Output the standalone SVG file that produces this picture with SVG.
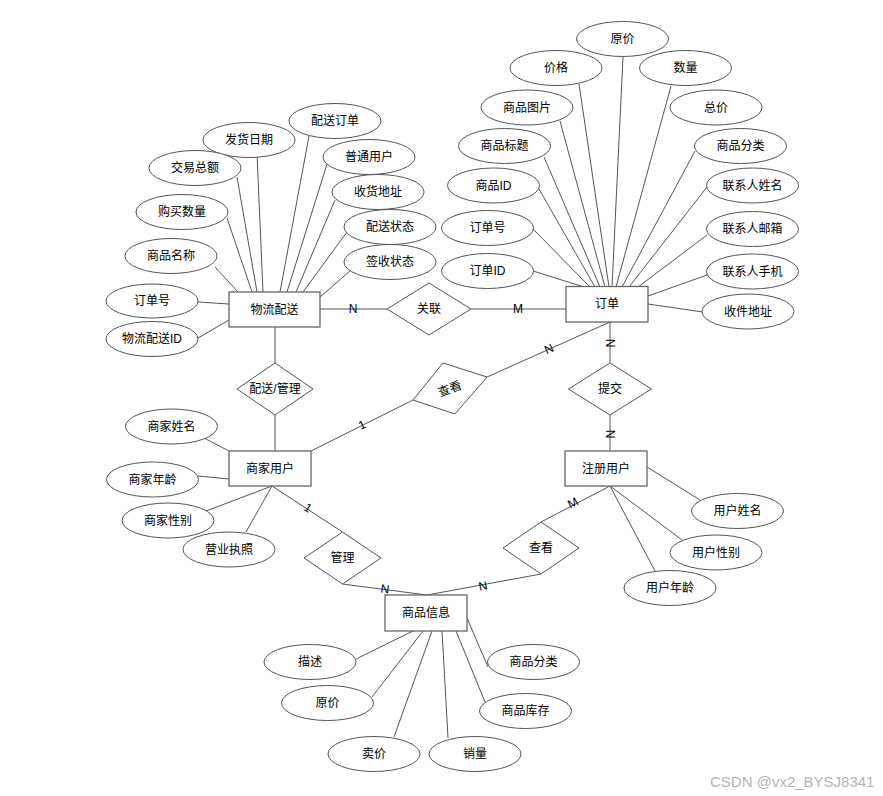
<svg xmlns="http://www.w3.org/2000/svg" width="883" height="796" viewBox="0 0 883 796">
<style>
.e{fill:#fff;stroke:#555;stroke-width:1}
.r{fill:#fff;stroke:#666;stroke-width:1.3}
.d{fill:#fff;stroke:#555;stroke-width:1}
.l{stroke:#555;stroke-width:1;fill:none}
text{font-family:"Liberation Sans","Noto Sans CJK SC",sans-serif;font-size:12px;text-anchor:middle;dominant-baseline:central;fill:#000}
.wm{font-size:15px;fill:#b4b4b4;text-anchor:start;dominant-baseline:auto}
</style>
<rect width="883" height="796" fill="#fff"/>
<g id="connectors">
<!-- relationships -->
<line class="l" x1="320" y1="309" x2="387" y2="309"/>
<line class="l" x1="471" y1="309" x2="566" y2="309"/>
<line class="l" x1="275" y1="327" x2="275" y2="363"/>
<line class="l" x1="275" y1="415" x2="275" y2="451"/>
<line class="l" x1="311" y1="451" x2="413" y2="400"/>
<line class="l" x1="487" y1="377" x2="610" y2="322"/>
<line class="l" x1="610" y1="322" x2="610" y2="363"/>
<line class="l" x1="610" y1="415" x2="610" y2="451"/>
<line class="l" x1="272" y1="486" x2="342.5" y2="532"/>
<line class="l" x1="610" y1="486" x2="541" y2="522"/>
<line class="l" x1="342.5" y1="584" x2="427" y2="595"/>
<line class="l" x1="541" y1="574" x2="427" y2="595"/>
<!-- 物流配送 attributes -->
<line class="l" x1="198" y1="302" x2="229" y2="304"/>
<line class="l" x1="198" y1="338" x2="229" y2="320"/>
<line class="l" x1="215" y1="267" x2="238" y2="292"/>
<line class="l" x1="227" y1="218" x2="252" y2="292"/>
<line class="l" x1="237" y1="177" x2="257" y2="292"/>
<line class="l" x1="257" y1="154" x2="263" y2="292"/>
<line class="l" x1="309" y1="136" x2="280" y2="292"/>
<line class="l" x1="327" y1="164" x2="287" y2="292"/>
<line class="l" x1="335" y1="200" x2="296" y2="292"/>
<line class="l" x1="347" y1="232" x2="303" y2="292"/>
<line class="l" x1="350" y1="271" x2="320" y2="297"/>
<!-- 订单 attributes -->
<line class="l" x1="533" y1="271" x2="584" y2="287"/>
<line class="l" x1="533" y1="229" x2="590" y2="287"/>
<line class="l" x1="539" y1="189" x2="595" y2="287"/>
<line class="l" x1="544" y1="157" x2="600" y2="287"/>
<line class="l" x1="560" y1="121" x2="605" y2="287"/>
<line class="l" x1="579" y1="84" x2="609" y2="287"/>
<line class="l" x1="623" y1="57" x2="612" y2="287"/>
<line class="l" x1="671" y1="86" x2="616" y2="287"/>
<line class="l" x1="695" y1="151" x2="622" y2="287"/>
<line class="l" x1="707" y1="187" x2="629" y2="287"/>
<line class="l" x1="707" y1="235" x2="638" y2="287"/>
<line class="l" x1="707" y1="275" x2="648" y2="296"/>
<line class="l" x1="703" y1="312" x2="648" y2="304"/>
<!-- 商家用户 attributes -->
<line class="l" x1="204" y1="438" x2="229" y2="451"/>
<line class="l" x1="198" y1="476" x2="229" y2="479"/>
<line class="l" x1="206" y1="511" x2="272" y2="486"/>
<line class="l" x1="246" y1="532" x2="272" y2="486"/>
<!-- 注册用户 attributes -->
<line class="l" x1="700" y1="500" x2="647" y2="467"/>
<line class="l" x1="682" y1="540" x2="610" y2="486"/>
<line class="l" x1="655" y1="571" x2="610" y2="486"/>
<!-- 商品信息 attributes -->
<line class="l" x1="356" y1="659" x2="413" y2="631"/>
<line class="l" x1="372" y1="697" x2="423" y2="631"/>
<line class="l" x1="394" y1="737" x2="432" y2="631"/>
<line class="l" x1="448" y1="738" x2="442" y2="631"/>
<line class="l" x1="485" y1="702" x2="456" y2="631"/>
<line class="l" x1="488" y1="667" x2="467" y2="618"/>
<!-- cardinality labels -->
<text x="353" y="309">N</text>
<text x="518" y="309">M</text>
<text transform="translate(610,343) rotate(90)">N</text>
<text transform="translate(610,434) rotate(90)">N</text>
<text transform="translate(549,349) rotate(-25)">N</text>
<text transform="translate(362,425) rotate(-25)">1</text>
<text transform="translate(308,508) rotate(33)">1</text>
<text transform="translate(573,503) rotate(-27)">M</text>
<text transform="translate(385,589) rotate(7)">N</text>
<text transform="translate(483,586) rotate(-11)">N</text>
</g>
<!-- entities -->
<g id="wuliu"><rect class="r" x="229" y="292" width="91" height="35"/><text x="274.5" y="309.5">物流配送</text></g>
<g id="dingdan"><rect class="r" x="566" y="286.5" width="82" height="35.5"/><text x="607" y="304">订单</text></g>
<g id="shangjia"><rect class="r" x="229" y="451" width="82" height="35"/><text x="270" y="468.5">商家用户</text></g>
<g id="zhuce"><rect class="r" x="565" y="451" width="82" height="35"/><text x="606" y="468.5">注册用户</text></g>
<g id="shangpin"><rect class="r" x="385" y="595" width="82" height="36"/><text x="426" y="613">商品信息</text></g>
<!-- relationships -->
<g id="guanlian"><polygon class="d" points="387,309 429,283 471,309 429,335"/><text x="429" y="309">关联</text></g>
<g id="peisong"><polygon class="d" points="237,389 275,363 313,389 275,415"/><text x="275" y="389">配送/管理</text></g>
<g id="tijiao"><polygon class="d" points="568.5,389 610,363 651.5,389 610,415"/><text x="610" y="389">提交</text></g>
<g id="chakan1"><polygon class="d" points="443,363 487,377 455,414 413,400"/><text transform="translate(450,389) rotate(-20)">查看</text></g>
<g id="guanli"><polygon class="d" points="304,558 342.5,532 381,558 342.5,584"/><text x="342.5" y="558">管理</text></g>
<g id="chakan2"><polygon class="d" points="503,548 541,522 579,548 541,574"/><text x="541" y="548">查看</text></g>
<!-- 物流配送 attributes -->
<g id="a1"><ellipse class="e" cx="335" cy="121" rx="46" ry="17.5"/><text x="335" y="121">配送订单</text></g>
<g id="a2"><ellipse class="e" cx="249" cy="140" rx="46" ry="17.5"/><text x="249" y="140">发货日期</text></g>
<g id="a3"><ellipse class="e" cx="195" cy="168" rx="46" ry="17.5"/><text x="195" y="168">交易总额</text></g>
<g id="a4"><ellipse class="e" cx="369" cy="157" rx="46" ry="17.5"/><text x="369" y="157">普通用户</text></g>
<g id="a5"><ellipse class="e" cx="378" cy="192" rx="46" ry="17.5"/><text x="378" y="192">收货地址</text></g>
<g id="a6"><ellipse class="e" cx="182" cy="212" rx="46" ry="17.5"/><text x="182" y="212">购买数量</text></g>
<g id="a7"><ellipse class="e" cx="390" cy="227" rx="46" ry="17.5"/><text x="390" y="227">配送状态</text></g>
<g id="a8"><ellipse class="e" cx="171" cy="256" rx="46" ry="17.5"/><text x="171" y="256">商品名称</text></g>
<g id="a9"><ellipse class="e" cx="390" cy="262" rx="46" ry="17.5"/><text x="390" y="262">签收状态</text></g>
<g id="a10"><ellipse class="e" cx="152" cy="301" rx="46" ry="17"/><text x="152" y="301">订单号</text></g>
<g id="a11"><ellipse class="e" cx="152" cy="339" rx="46" ry="17.5"/><text x="152" y="339">物流配送ID</text></g>
<!-- 订单 attributes -->
<g id="b1"><ellipse class="e" cx="622.5" cy="39" rx="46" ry="17.5"/><text x="622.5" y="39">原价</text></g>
<g id="b2"><ellipse class="e" cx="556" cy="68" rx="46" ry="17.5"/><text x="556" y="68">价格</text></g>
<g id="b3"><ellipse class="e" cx="685.5" cy="68" rx="46" ry="17.5"/><text x="685.5" y="68">数量</text></g>
<g id="b4"><ellipse class="e" cx="527" cy="107.5" rx="46" ry="17.5"/><text x="527" y="107.5">商品图片</text></g>
<g id="b5"><ellipse class="e" cx="716" cy="107.5" rx="46" ry="17.5"/><text x="716" y="107.5">总价</text></g>
<g id="b6"><ellipse class="e" cx="504.5" cy="146" rx="46" ry="17.5"/><text x="504.5" y="146">商品标题</text></g>
<g id="b7"><ellipse class="e" cx="740.5" cy="146" rx="46" ry="17.5"/><text x="740.5" y="146">商品分类</text></g>
<g id="b8"><ellipse class="e" cx="493.5" cy="185.5" rx="46" ry="17.5"/><text x="493.5" y="185.5">商品ID</text></g>
<g id="b9"><ellipse class="e" cx="752.5" cy="185.5" rx="46" ry="17.5"/><text x="752.5" y="185.5">联系人姓名</text></g>
<g id="b10"><ellipse class="e" cx="487.5" cy="228" rx="46" ry="17.5"/><text x="487.5" y="228">订单号</text></g>
<g id="b11"><ellipse class="e" cx="752.5" cy="229" rx="46" ry="17.5"/><text x="752.5" y="229">联系人邮箱</text></g>
<g id="b12"><ellipse class="e" cx="487.5" cy="271" rx="46" ry="17.5"/><text x="487.5" y="271">订单ID</text></g>
<g id="b13"><ellipse class="e" cx="752.5" cy="271.5" rx="46" ry="17.5"/><text x="752.5" y="271.5">联系人手机</text></g>
<g id="b14"><ellipse class="e" cx="748" cy="311.5" rx="46" ry="17.5"/><text x="748" y="311.5">收件地址</text></g>
<!-- 商家用户 attributes -->
<g id="c1"><ellipse class="e" cx="171.5" cy="426.5" rx="46" ry="17.5"/><text x="171.5" y="426.5">商家姓名</text></g>
<g id="c2"><ellipse class="e" cx="152.5" cy="479.5" rx="46" ry="17.5"/><text x="152.5" y="479.5">商家年龄</text></g>
<g id="c3"><ellipse class="e" cx="168" cy="520.5" rx="46" ry="17.5"/><text x="168" y="520.5">商家性别</text></g>
<g id="c4"><ellipse class="e" cx="229" cy="549.5" rx="46" ry="17.5"/><text x="229" y="549.5">营业执照</text></g>
<!-- 注册用户 attributes -->
<g id="d1"><ellipse class="e" cx="737.5" cy="511" rx="46" ry="17.5"/><text x="737.5" y="511">用户姓名</text></g>
<g id="d2"><ellipse class="e" cx="716" cy="552.5" rx="46" ry="17.5"/><text x="716" y="552.5">用户性别</text></g>
<g id="d3"><ellipse class="e" cx="670" cy="588" rx="46" ry="17.5"/><text x="670" y="588">用户年龄</text></g>
<!-- 商品信息 attributes -->
<g id="f1"><ellipse class="e" cx="310" cy="662" rx="46" ry="17.5"/><text x="310" y="662">描述</text></g>
<g id="f2"><ellipse class="e" cx="327.5" cy="703" rx="46" ry="17.5"/><text x="327.5" y="703">原价</text></g>
<g id="f3"><ellipse class="e" cx="374" cy="754" rx="46" ry="17.5"/><text x="374" y="754">卖价</text></g>
<g id="f4"><ellipse class="e" cx="475" cy="754" rx="46" ry="17.5"/><text x="475" y="754">销量</text></g>
<g id="f5"><ellipse class="e" cx="525.5" cy="711" rx="46" ry="17.5"/><text x="525.5" y="711">商品库存</text></g>
<g id="f6"><ellipse class="e" cx="533.5" cy="662" rx="46" ry="17.5"/><text x="533.5" y="662">商品分类</text></g>
<text class="wm" x="710" y="787">CSDN @vx2_BYSJ8341</text>
</svg>
